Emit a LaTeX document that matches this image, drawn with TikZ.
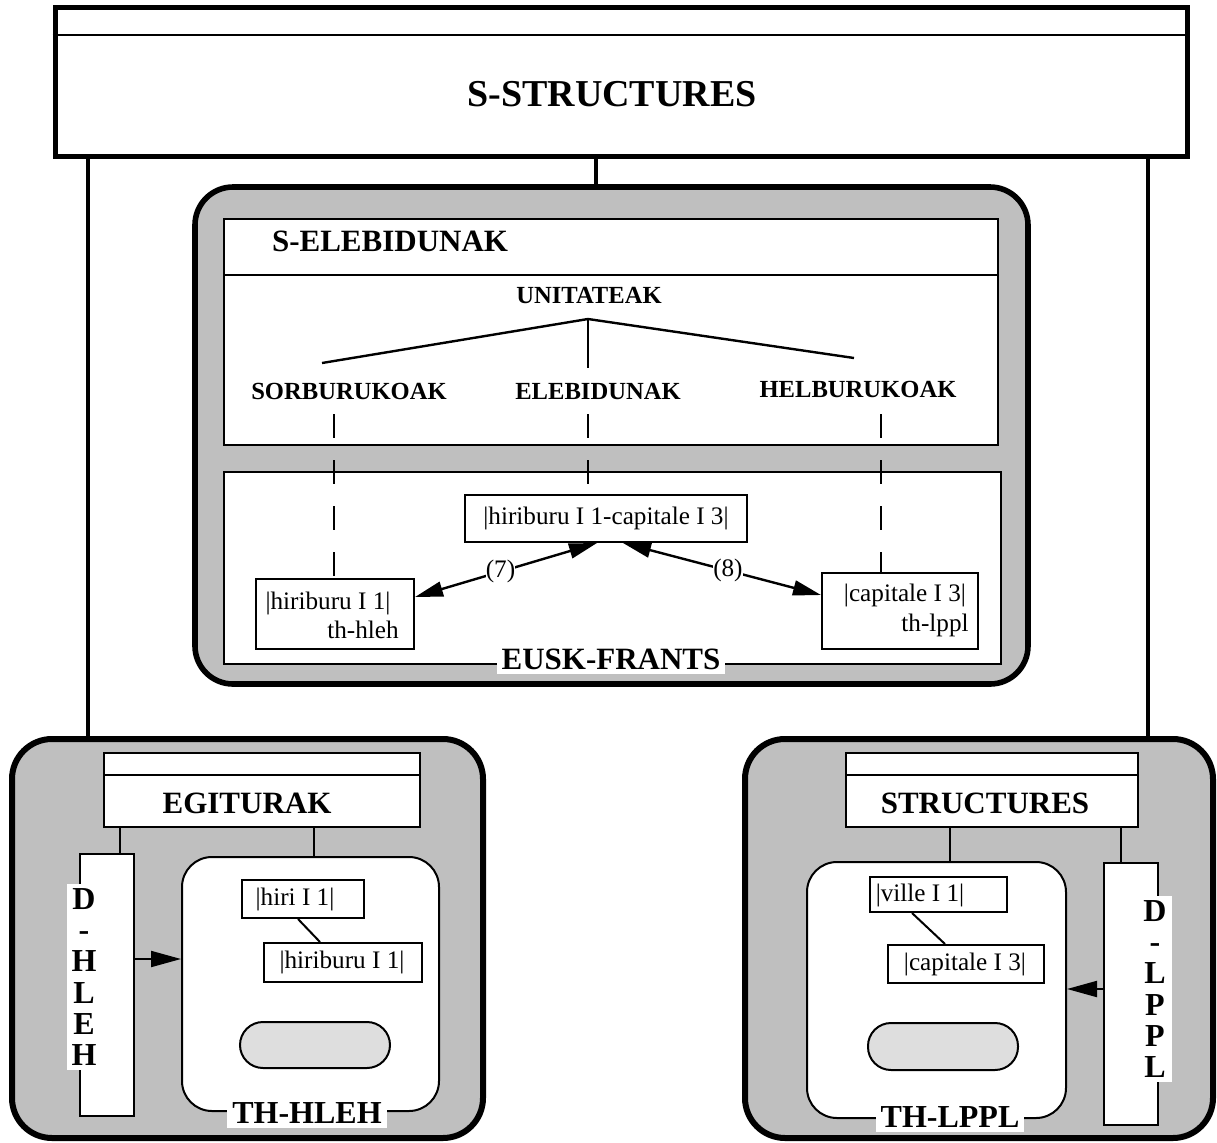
\documentclass[tikz,border=0pt]{standalone}
\usepackage{fontspec}
\setmainfont{Liberation Serif}
\usepackage{xcolor}
\usetikzlibrary{positioning}
\usetikzlibrary{fit}
\usetikzlibrary{arrows.meta}
\definecolor{panelgray}{rgb}{0.75, 0.75, 0.75}
\definecolor{pillgray}{rgb}{0.87, 0.87, 0.87}
\tikzset{
    outerbox/.style={draw, line width=2.5pt, fill=white, inner sep=0pt},
    panel/.style={draw, line width=3pt, fill=panelgray, rounded corners=20pt, inner sep=0pt},
    plainbox/.style={draw, line width=1pt, fill=white, inner sep=0pt},
    room/.style={draw, line width=1pt, fill=white, rounded corners=15pt, inner sep=0pt},
    pill/.style={draw, line width=1pt, fill=pillgray, rounded corners=11.5pt, inner sep=0pt},
    tagtxt/.style={fill=white, inner sep=2.5pt, font=\bfseries\fontsize{16}{18}\selectfont},
    headtxt/.style={font=\bfseries\fontsize{15.5}{18}\selectfont},
    cattxt/.style={font=\bfseries\fontsize{12.3}{14}\selectfont},
    entrytxt/.style={font=\fontsize{12.6}{14}\selectfont, inner sep=0pt},
    letters/.style={fill=white, align=center, inner sep=2.5pt, font=\bfseries\fontsize{16}{15.6}\selectfont},
    linkline/.style={line width=2.3pt},
    thinline/.style={line width=1pt},
    dashline/.style={line width=1pt, dash pattern=on 12pt off 11pt},
    bigarrow/.style={line width=1pt, -{Triangle[length=15pt, width=8pt]}},
    duo/.style={line width=1.2pt, <->, >={Triangle[length=14pt, width=7.5pt]}}
}

\begin{document}
\begin{tikzpicture}[x=0.5pt, y=-0.5pt]
    \useasboundingbox (0,0) rectangle (1217,1142);

    % S-STRUCTURES
    \node[outerbox, fit={(55,7) (1187,156)}] (sstr) {};
    \draw[thinline] (sstr.west |- 0,35) -- (sstr.east |- 0,35);
    \node[font=\bfseries\fontsize{19}{22}\selectfont] (sstrtxt) at (612,94) {S-STRUCTURES};

    % Bilingual part
    \node[panel, line width=2.8pt, rounded corners=19pt, fit={(195,187) (1028,684)}] (eusk) {};
    \node[plainbox, fit={(224,219) (998,445)}] (upper) {};
    \draw[thinline] (upper.west |- 0,275) -- (upper.east |- 0,275);
    \node[headtxt, anchor=west] (selebtxt) at (265,241) {S-ELEBIDUNAK};
    \node[cattxt] (unit) at (589,295) {UNITATEAK};
    \node[cattxt] (sorb) at (349,391) {SORBURUKOAK};
    \node[cattxt] (eleb) at (598,391) {ELEBIDUNAK};
    \node[cattxt] (helb) at (858,389) {HELBURUKOAK};
    \coordinate (root) at (588,319);
    \coordinate (sorbtop) at (322,363);
    \coordinate (elebtop) at (588,368);
    \coordinate (helbtop) at (854,358);
    \draw[line width=1.2pt] (sorbtop) -- (root) -- (helbtop);
    \draw[line width=1.2pt] (root) -- (elebtop);

    \node[plainbox, fit={(224,472) (1001,664)}] (lower) {};
    \node[plainbox, fit={(465,495) (747,542)}] (pair) {};
    \node[entrytxt] (pairtxt) at (pair.center) {|hiriburu I 1-capitale I 3|};
    \node[plainbox, fit={(256,579) (414,649)}] (src) {};
    \node[entrytxt] (srctxt) at (328,603) {|hiriburu I 1|};
    \node[entrytxt] (srcth) at (363,630) {th-hleh};
    \node[plainbox, fit={(822,573) (978,649)}] (tgt) {};
    \node[entrytxt] (tgttxt) at (905,595) {|capitale I 3|};
    \node[entrytxt] (tgtth) at (935,625) {th-lppl};

    % dashed links
    \coordinate (sorbfoot) at (334,414);
    \coordinate (elebfoot) at (588,414);
    \coordinate (helbfoot) at (881,414);
    \draw[dashline] (sorbfoot) -- (src.north -| sorbfoot);
    \draw[dashline] (elebfoot) -- (pair.north -| elebfoot);
    \draw[dashline] (helbfoot) -- (tgt.north -| helbfoot);

    % (7) and (8)
    \draw[duo] (pair.south -| 597,0) -- node[fill=white, inner sep=1pt, entrytxt, pos=0.53] (seven) {(7)} (src.east |- 0,597);
    \draw[duo] (pair.south -| 623,0) -- node[fill=white, inner sep=1pt, entrytxt, pos=0.53] (eight) {(8)} (tgt.west |- 0,595);

    \node[tagtxt, font=\bfseries\fontsize{15.5}{18}\selectfont] (eusktxt) at (611,659) {EUSK-FRANTS};

    % Basque side
    \node[panel, fit={(12,739) (483,1138)}] (hleh) {};
    \node[plainbox, fit={(104,753) (420,827)}] (egit) {};
    \draw[thinline] (egit.west |- 0,775) -- (egit.east |- 0,775);
    \node[headtxt] (egittxt) at (247,803) {EGITURAK};
    \node[plainbox, fit={(80,854) (134,1116)}] (dhleh) {};
    \node[letters] (dhlehtxt) at (84,977) {D\\-\\H\\L\\E\\H};
    \node[room, fit={(182,857) (439,1111)}] (thhleh) {};
    \node[tagtxt] (thhlehtxt) at (307,1113) {TH-HLEH};
    \node[plainbox, fit={(242,880) (364,918)}] (hiri) {};
    \node[entrytxt] (hiritxt) at (295,899) {|hiri I 1|};
    \node[plainbox, fit={(264,943) (422,982)}] (hiribu) {};
    \node[entrytxt] (hiributxt) at (342,962) {|hiriburu I 1|};
    \draw[thinline] (hiri.south -| 298,0) -- (hiribu.north -| 320,0);
    \node[pill, fit={(240,1022) (390,1068)}] (hlehpill) {};
    \draw[thinline] (egit.south -| 120,0) -- (dhleh.north -| 120,0);
    \draw[thinline] (egit.south -| 314,0) -- (thhleh.north -| 314,0);
    \draw[bigarrow] (dhleh.east |- 0,959) -- (thhleh.west |- 0,959);

    % French side
    \node[panel, fit={(745,739) (1213,1138)}] (lppl) {};
    \node[plainbox, fit={(846,753) (1138,827)}] (struc) {};
    \draw[thinline] (struc.west |- 0,775) -- (struc.east |- 0,775);
    \node[headtxt] (structxt) at (985,803) {STRUCTURES};
    \node[room, fit={(807,862) (1066,1118)}] (thlppl) {};
    \node[tagtxt] (thlppltxt) at (950,1117) {TH-LPPL};
    \node[plainbox, fit={(870,877) (1007,912)}] (ville) {};
    \node[entrytxt] (villetxt) at (920,895) {|ville I 1|};
    \node[plainbox, fit={(888,945) (1044,983)}] (capit) {};
    \node[entrytxt] (capittxt) at (965,964) {|capitale I 3|};
    \draw[thinline] (ville.south -| 912,0) -- (capit.north -| 945,0);
    \node[pill, fit={(868,1023) (1018,1070)}] (lpplpill) {};
    \node[plainbox, fit={(1104,863) (1158,1125)}] (dlppl) {};
    \node[letters] (dlppltxt) at (1155,989) {D\\-\\L\\P\\P\\L};
    \draw[thinline] (struc.south -| 950,0) -- (thlppl.north -| 950,0);
    \draw[thinline] (struc.south -| 1121,0) -- (dlppl.north -| 1121,0);
    \draw[bigarrow] (dlppl.west |- 0,989) -- (thlppl.east |- 0,989);

    % links from S-STRUCTURES
    \draw[linkline] (sstr.south -| 88,0) -- (hleh.north -| 88,0);
    \draw[linkline] (sstr.south -| 1148,0) -- (lppl.north -| 1148,0);
    \draw[linkline] (sstr.south -| 596,0) -- (eusk.north -| 596,0);
\end{tikzpicture}
\end{document}
